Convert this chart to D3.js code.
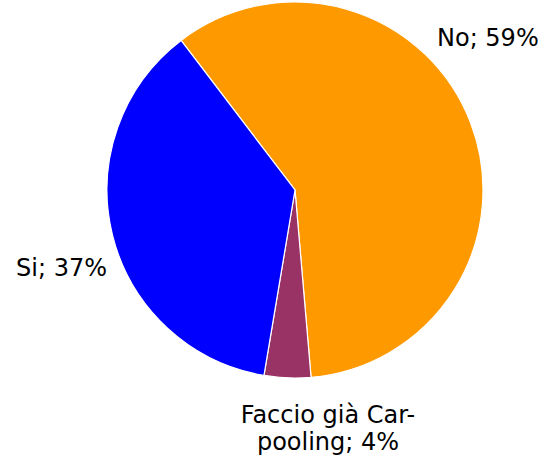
<!DOCTYPE html>
<html><head><meta charset="utf-8">
<script src="https://cdn.jsdelivr.net/npm/d3@7"></script>
<style>body{margin:0;background:#fff}svg{display:block}</style>
</head><body>
<script>
const categories = ["No", "Faccio già Car-pooling", "Si"];
const values = [59, 4, 37];
const colors = ["#FF9900", "#993366", "#0000FF"];

const W = 547, H = 456;
const cx = 295, cy = 190, R = 188;
const svg = d3.select("body").append("svg").attr("width", W).attr("height", H);

const start = -37.3 * Math.PI / 180;
const pie = d3.pie().sort(null).value(d => d)
  .startAngle(start).endAngle(start + 2 * Math.PI);
const arcs = pie(values);
const arc = d3.arc().innerRadius(0).outerRadius(R);

const g = svg.append("g").attr("transform", `translate(${cx},${cy})`);
g.selectAll("path").data(arcs).enter().append("path")
  .attr("d", arc)
  .attr("fill", (d, i) => colors[i])
  .attr("stroke", "#fff").attr("stroke-width", 1.2);

const font = "DejaVu Sans, Verdana, sans-serif";
const fs = 24;
svg.append("text").attr("x", 437).attr("y", 46).attr("font-family", font).attr("font-size", fs)
  .text(categories[0] + "; " + values[0] + "%");
svg.append("text").attr("x", 107).attr("y", 276).attr("text-anchor", "end").attr("font-family", font).attr("font-size", fs)
  .text(categories[2] + "; " + values[2] + "%");
const t = svg.append("text").attr("text-anchor", "middle").attr("font-family", font).attr("font-size", fs);
t.append("tspan").attr("x", 328).attr("y", 423).text("Faccio già Car-");
t.append("tspan").attr("x", 328).attr("y", 450).text("pooling; " + values[1] + "%");
</script>
</body></html>
